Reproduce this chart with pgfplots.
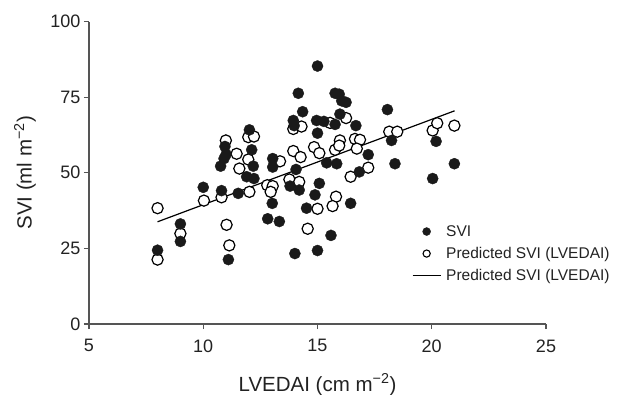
\documentclass[border=0pt]{standalone}
\usepackage{pgfplots}
\pgfplotsset{compat=1.18}
\usepackage{fontspec}
\setmainfont{Liberation Sans}
\definecolor{axgray}{HTML}{555555}
\definecolor{txt}{HTML}{222222}
\definecolor{mk}{HTML}{1A1A1A}
\begin{document}
\begin{tikzpicture}
\begin{axis}[
  scale only axis,
  width=457pt, height=302.4pt,
  xmin=5, xmax=25, ymin=0, ymax=100,
  xtick={5,10,15,20,25}, ytick={0,25,50,75,100},
  axis lines=left,
  axis line style={-, axgray, line width=1.5pt},
  tick style={axgray, line width=1.3pt},
  tick align=outside, major tick length=5pt,
  /pgf/number format/assume math mode=true,
  ticklabel style={font=\fontsize{18}{20}\selectfont, text=txt},
  xticklabel style={yshift=-7pt},
  xlabel={LVEDAI (cm m\textsuperscript{−2})},
  ylabel={SVI (ml m\textsuperscript{−2})},
  label style={font=\fontsize{20.5}{23}\selectfont, text=txt},
  x label style={at={(axis description cs:0.5,-0.2)}, anchor=center},
  y label style={at={(axis description cs:-0.140,0.5)}, anchor=center, rotate=0},
  clip=false,
  legend style={draw=none, fill=none, at={(axis cs:19.0,34.0)}, anchor=north west,
    font=\fontsize{15.5}{17}\selectfont, text=txt, row sep=5.5pt, column sep=3pt,
    nodes={inner sep=2pt}},
  legend cell align=left,
]
\addplot[black, line width=1.2pt, forget plot] coordinates {(8,33.8) (21,70.5)};
\addplot[only marks, mark=*, mark size=5.6pt, mark options={draw=black, fill=white, line width=1.2pt}, forget plot] coordinates {
(8.0,38.3) (8.0,21.3) (9.0,29.9) (10.03,40.8) (10.8,41.9) (11.02,32.8) (11.14,26.0)
(10.99,60.7) (11.46,56.3) (11.58,51.4) (11.97,54.4) (11.97,61.8) (12.22,62.0) (12.02,43.7)
(12.8,45.9) (13.04,45.6) (12.95,43.7) (13.36,53.8) (13.77,47.8) (14.2,47.0) (13.94,57.2)
(14.26,55.2) (13.94,64.5) (14.3,65.3) (14.85,58.5) (15.08,56.5) (14.57,31.5) (15.0,38.1)
(15.77,57.6) (15.98,60.7) (15.95,59.0) (15.81,42.1) (15.66,39.0) (15.55,66.5) (16.25,68.1)
(16.64,61.2) (16.86,60.9) (16.72,58.0) (18.14,63.6) (18.49,63.6) (20.04,64.0) (20.24,66.4)
(20.99,65.6) (17.22,51.7) (16.45,48.7)
};
\addplot[only marks, mark=*, mark size=5.6pt, mark options={draw=mk, fill=mk, line width=0.3pt}, forget plot] coordinates {
(8.0,24.4) (9.0,33.1) (9.0,27.3) (10.0,45.2) (10.8,44.1) (10.76,52.2) (10.91,54.7) (10.95,58.7)
(11.0,56.1) (11.1,21.3) (11.53,43.2) (11.9,48.7) (12.02,64.2) (12.12,57.6) (12.19,52.2) (12.22,48.1)
(12.82,34.8) (13.02,39.9) (13.04,54.7) (13.04,51.9) (13.33,33.9) (13.8,45.6) (13.94,67.3)
(13.98,65.6) (14.01,23.3) (14.06,51.1) (14.16,76.3) (14.2,44.3) (14.35,70.2) (14.52,38.3)
(14.89,42.7) (14.96,67.3) (15.0,85.3) (15.0,63.1) (15.0,24.3) (15.08,46.5) (15.28,67.0)
(15.4,53.3) (15.59,29.3) (15.77,66.0) (15.77,76.3) (15.95,76.0) (15.98,69.4) (16.06,73.8)
(16.25,73.3) (15.84,53.0) (16.45,39.9) (16.68,65.6) (16.83,50.3) (17.22,56.0) (18.06,70.9)
(18.24,60.7) (18.39,53.0) (20.04,48.1) (20.19,60.4) (20.99,53.0)
};
\addlegendimage{legend image code/.code={\draw[mk, fill=mk] (14pt,0pt) circle (4pt);}}
\addlegendentry{SVI}
\addlegendimage{legend image code/.code={\draw[black, fill=white, line width=1.1pt] (14pt,0pt) circle (3.6pt);}}
\addlegendentry{Predicted SVI (LVEDAI)}
\addlegendimage{legend image code/.code={\draw[black, line width=1.1pt] (0pt,0pt) -- (28pt,0pt);}}
\addlegendentry{Predicted SVI (LVEDAI)}
\end{axis}
\pgfresetboundingbox
\path (current axis.south west) ++(-89pt,-70pt) rectangle ++(621pt,394pt);
\end{tikzpicture}
\end{document}
